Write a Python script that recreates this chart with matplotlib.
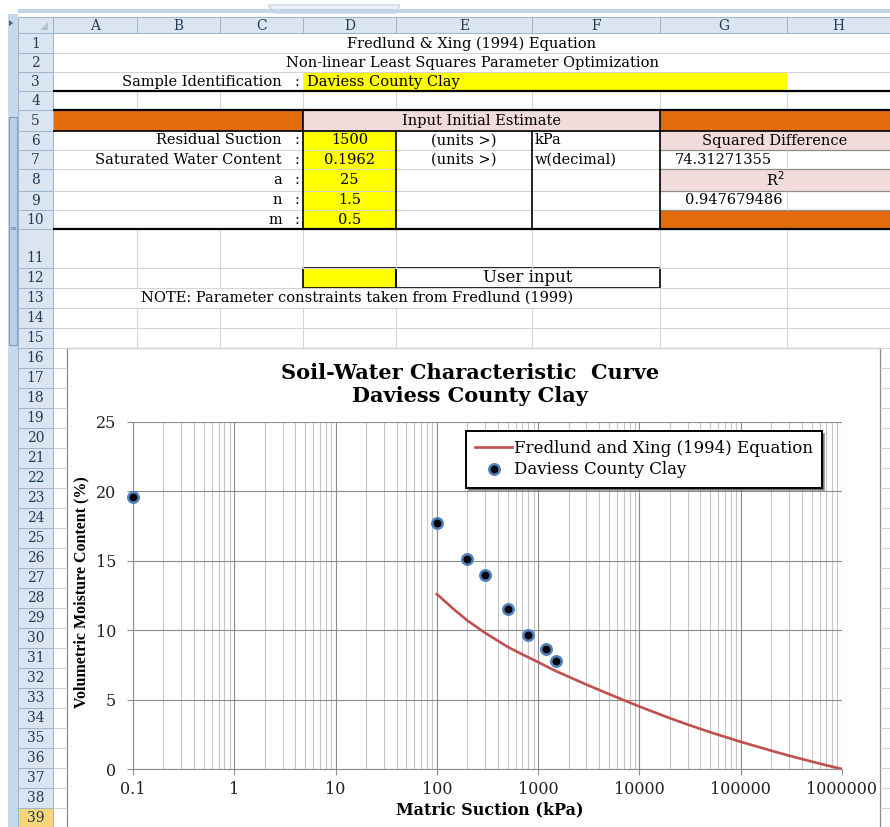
import numpy as np
import matplotlib.pyplot as plt
from matplotlib.patches import Rectangle, Polygon
from matplotlib.ticker import FixedLocator, FixedFormatter, NullFormatter

# chart data
obs_suction = [0.1, 100, 200, 300, 500, 800, 1200, 1500]
obs_moisture = [19.62, 17.7, 15.1, 14.0, 11.5, 9.65, 8.65, 7.8]

fit_suction = [100, 150, 200, 300, 500, 700, 1000, 1500, 2000, 3000, 5000, 10000,
               20000, 30000, 50000, 100000, 200000, 300000, 500000, 700000, 1000000]
fit_moisture = [12.6, 11.45, 10.7, 9.8, 8.8, 8.25, 7.7, 7.05, 6.65, 6.08, 5.4, 4.5,
                3.66, 3.2, 2.65, 1.96, 1.32, 0.96, 0.54, 0.27, 0.0]

x_ticks = [0.1, 1, 10, 100, 1000, 10000, 100000, 1000000]
x_tick_labels = ['0.1', '1', '10', '100', '1000', '10000', '100000', '1000000']
y_ticks = [0, 5, 10, 15, 20, 25]

# sheet geometry (pixels)
W, H = 890, 827
col_edges = [53, 137, 220, 303, 396, 532, 660, 787, 890]
col_names = ['A', 'B', 'C', 'D', 'E', 'F', 'G', 'H']
row_edges = [33, 53, 72, 91, 110, 131, 150, 169, 191, 210, 229, 268, 288, 308, 328, 348]
row_edges += [348 + 20 * k for k in range(1, 25)]

SERIF = 'DejaVu Serif'
ORANGE = '#e26b0a'
PINK = '#f2dcdb'
YELLOW = '#ffff00'
HDR = '#dbe5f1'
HDR_LINE = '#9eb6ce'
GRID = '#d4d4d4'
CELL_FS = 10.5

fig = plt.figure(figsize=(8.9, 8.27), dpi=100)
bg = fig.add_axes([0, 0, 1, 1])
bg.set_xlim(0, W)
bg.set_ylim(H, 0)
bg.axis('off')


def fill(x0, y0, x1, y1, color):
    bg.add_patch(Rectangle((x0, y0), x1 - x0, y1 - y0, facecolor=color, edgecolor='none'))


def hline(y, x0, x1, color=GRID, lw=0.75):
    bg.plot([x0, x1], [y, y], color=color, lw=lw, solid_capstyle='butt')


def vline(x, y0, y1, color=GRID, lw=0.75):
    bg.plot([x, x], [y0, y1], color=color, lw=lw, solid_capstyle='butt')


def txt(x, y, s, ha='center', size=CELL_FS, color='black'):
    bg.text(x, y, s, ha=ha, va='center', fontsize=size, family=SERIF, color=color)


# window chrome at the top and left
hline(11, 18, W, color='#c5d5e8', lw=3)
bg.add_patch(Polygon([[268, 5], [400, 5], [395, 13], [275, 13]], closed=True,
                     facecolor='#eef2f7', edgecolor='#c3cdd8', lw=0.8))
fill(8, 14, 18, H, '#c9d9ec')
bg.add_patch(Rectangle((8.5, 117), 8.5, 228, facecolor='#bcd0e8', edgecolor='#7f9dc4', lw=0.8))
bg.text(12.5, 228, '≡', ha='center', va='center', fontsize=6, color='#6d87aa')
bg.add_patch(Polygon([[9, 20], [9, 26], [13, 23]], closed=True, facecolor='#4a5f7a', edgecolor='none'))

# column headers
fill(18, 17, W, 33, HDR)
hline(17, 18, W, HDR_LINE)
hline(33, 18, W, HDR_LINE)
for i, name in enumerate(col_names):
    x0, x1 = col_edges[i], col_edges[i + 1]
    vline(x0, 17, 33, HDR_LINE)
    txt((x0 + x1) / 2, 25.5, name, size=10, color='#243b55')
vline(18, 17, H, HDR_LINE)
bg.add_patch(Polygon([[48, 30], [48, 22], [40, 30]], closed=True, facecolor='#b4c4d6', edgecolor='none'))

# row headers
fill(18, 33, 53, H, HDR)
for r in range(39):
    y0, y1 = row_edges[r], row_edges[r + 1]
    if r == 38:
        fill(18, y0, 53, y1, '#f8d57a')
    hline(y1, 18, 53, HDR_LINE)
    ty = y1 - 10 if r == 10 else (y0 + y1) / 2
    txt(35.5, ty + 0.5, str(r + 1), size=10, color='#243b55')
vline(53, 17, H, HDR_LINE)

# light cell gridlines
for r in range(1, 16):
    hline(row_edges[r], 53, W)
for x in col_edges[1:-1]:
    vline(x, 91, 110)
    vline(x, 229, 268)
    vline(x, 308, 348)
for x in [137, 220, 787]:
    vline(x, 268, 288)
for x in [660, 787]:
    vline(x, 288, 308)
for y in row_edges[16:]:
    hline(y, 53, 67)
    hline(y, 880, W)

# filled cells
fill(303, 72, 787, 91, YELLOW)
fill(53, 110, 303, 131, ORANGE)
fill(303, 110, 660, 131, PINK)
fill(660, 110, W, 131, ORANGE)
fill(303, 131, 396, 229, YELLOW)
fill(660, 131, W, 150, PINK)
fill(660, 169, W, 191, PINK)
fill(660, 210, W, 229, ORANGE)
fill(303, 268, 396, 288, YELLOW)
for y in [150, 169, 191, 210]:
    hline(y, 53, 303)
    hline(y, 396, 660)
    hline(y, 660, W, color='#8c8c8c', lw=0.9)
vline(787, 150, 169)
vline(787, 191, 210)

# black borders
hline(91, 53, W, 'black', 1.6)
hline(110, 53, W, 'black', 1.6)
hline(131, 53, W, 'black', 1.2)
hline(229, 53, W, 'black', 1.6)
vline(303, 110, 229, 'black', 1.2)
vline(660, 110, 229, 'black', 1.2)
vline(396, 131, 229, 'black', 1.2)
vline(532, 131, 229, 'black', 1.2)
bg.add_patch(Rectangle((303, 268), 93, 20, facecolor='none', edgecolor='black', lw=1.2))
bg.add_patch(Rectangle((396, 268), 264, 20, facecolor='none', edgecolor='black', lw=1.2))

# sheet text
txt(472, 44, 'Fredlund & Xing (1994) Equation')
txt(472, 63, 'Non-linear Least Squares Parameter Optimization')
txt(282, 82, 'Sample Identification', ha='right')
txt(297, 82, ':')
txt(307, 82, 'Daviess County Clay', ha='left')
txt(481, 121, 'Input Initial Estimate')
labels = ['Residual Suction', 'Saturated Water Content', 'a', 'n', 'm']
values = ['1500', '0.1962', '25', '1.5', '0.5']
for i, (lab, val) in enumerate(zip(labels, values)):
    yc = (row_edges[5 + i] + row_edges[6 + i]) / 2
    txt(282, yc, lab, ha='right')
    txt(297, yc, ':')
    txt(349.5, yc, val)
txt(464, 140.5, '(units >)')
txt(464, 159.5, '(units >)')
txt(535, 140.5, 'kPa', ha='left')
txt(535, 159.5, 'w(decimal)', ha='left')
txt(775, 140.5, 'Squared Difference')
txt(675, 159.5, '74.31271355', ha='left')
txt(775, 180, 'R$^2$')
txt(685, 200.5, '0.947679486', ha='left')
txt(528, 278, 'User input', size=12)
txt(141, 298, 'NOTE: Parameter constraints taken from Fredlund (1999)', ha='left')

# chart area
bg.add_patch(Rectangle((67, 348), 813, 500, facecolor='white', edgecolor='#8c8c8c', lw=0.9))
bg.text(470, 373, 'Soil-Water Characteristic  Curve', ha='center', va='center',
        fontsize=15, family=SERIF, weight='bold')
bg.text(470, 396, 'Daviess County Clay', ha='center', va='center',
        fontsize=15, family=SERIF, weight='bold')

ax = fig.add_axes([133 / W, (H - 769) / H, (842 - 133) / W, (769 - 422) / H])
ax.set_xscale('log')
ax.set_xlim(0.1, 1e6)
ax.set_ylim(0, 25)
ax.xaxis.set_major_locator(FixedLocator(x_ticks))
ax.xaxis.set_major_formatter(FixedFormatter(x_tick_labels))
minor = [m * d for d in x_ticks[:-1] for m in range(2, 10)]
ax.xaxis.set_minor_locator(FixedLocator(minor))
ax.xaxis.set_minor_formatter(NullFormatter())
ax.set_yticks(y_ticks)
ax.set_axisbelow(True)
ax.grid(which='major', color='#8c8c8c', lw=0.8)
ax.grid(which='minor', axis='x', color='#c6c6c6', lw=0.8)
for s in ['top', 'right']:
    ax.spines[s].set_visible(False)
for s in ['left', 'bottom']:
    ax.spines[s].set_color('#8c8c8c')
    ax.spines[s].set_linewidth(0.8)
ax.tick_params(which='major', length=4, width=0.8, color='#8c8c8c', labelsize=11.5, labelcolor='#222222')
ax.tick_params(axis='y', pad=8)
ax.tick_params(axis='x', pad=5)
ax.tick_params(which='minor', length=0)
for lab in ax.get_xticklabels() + ax.get_yticklabels():
    lab.set_family(SERIF)

ax.plot(fit_suction, fit_moisture, color='#c0504d', lw=1.9,
        label='Fredlund and Xing (1994) Equation')
ax.plot(obs_suction, obs_moisture, 'o', ms=7.5, mfc='black', mec='#4f81bd', mew=1.8,
        clip_on=False, zorder=5, label='Daviess County Clay')

ax.set_xlabel('Matric Suction (kPa)', family=SERIF, weight='bold', fontsize=11.5)
ax.set_ylabel('Volumetric Moisture Content (%)', family='Liberation Serif', weight='bold', fontsize=11.5)
ax.xaxis.set_label_coords((490 - 133) / 709, (769 - 810) / 347)
ax.yaxis.set_label_coords((81 - 133) / 709, (769 - 592) / 347)
ax.xaxis.label.set_va('center')
ax.yaxis.label.set_va('center')

leg = ax.legend(loc='upper left', bbox_to_anchor=(0.4697, 0.974), prop={'family': SERIF, 'size': 12},
                frameon=True, fancybox=False, shadow=True, borderpad=0.55, labelspacing=0.25,
                handlelength=2.2, handletextpad=0.1, borderaxespad=0)
leg.get_frame().set_edgecolor('black')
leg.get_frame().set_linewidth(1.4)

fig.savefig('out.png', dpi=100)
